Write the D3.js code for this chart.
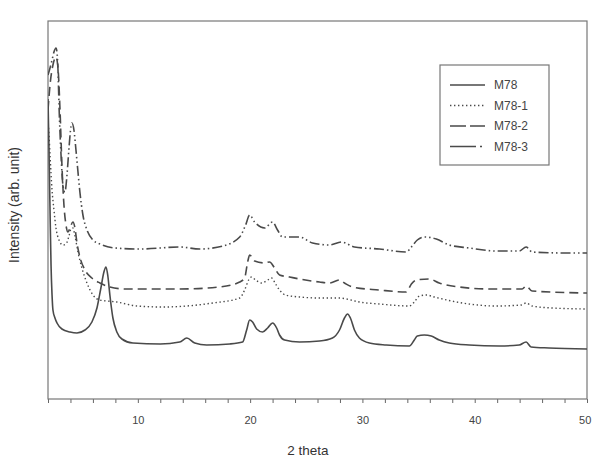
<!DOCTYPE html>
<html>
<head>
<meta charset="utf-8">
<script src="https://cdn.jsdelivr.net/npm/d3@7"></script>
<style>
  body { margin: 0; background: #fff; }
  svg { display: block; font-family: "Liberation Sans", Arial, sans-serif; }
</style>
</head>
<body>
<svg id="chart" width="592" height="461"></svg>
<script>
// 2 theta (deg), intensity (arb. unit)
var m78 = [[2.0,300],[2.09,249],[2.18,189],[2.27,134],[2.36,104],[2.44,89],[2.62,81],[2.8,76],[3.24,70],[3.96,67],[4.58,66],[5.29,69],[5.91,77],[6.36,91],[6.71,111],[6.98,127],[7.16,132],[7.33,123],[7.51,104],[7.78,81],[8.13,67],[8.58,60],[9.56,56],[12.0,55],[13.73,57],[14.36,61],[15.07,56],[16.13,54],[18.18,55],[19.33,57],[19.69,69],[19.96,79],[20.22,77],[20.58,70],[21.11,67],[21.56,71],[22.0,76],[22.36,71],[22.62,64],[23.07,59],[24.4,57],[26.18,58],[27.33,61],[27.96,69],[28.4,81],[28.67,85],[28.93,81],[29.29,69],[29.73,61],[30.62,56],[32.13,54],[34.18,53],[34.62,59],[34.89,63],[35.51,64],[36.13,63],[36.84,59],[37.73,56],[39.51,54],[42.18,53],[43.96,54],[44.58,57],[45.02,52],[46.62,51],[50,50]];
var m78_1 = [[2.0,279],[2.09,264],[2.18,244],[2.36,209],[2.53,189],[2.71,171],[2.98,159],[3.33,154],[3.6,155],[3.87,163],[4.04,170],[4.22,171],[4.4,163],[4.67,147],[5.02,131],[5.47,116],[6.0,104],[6.62,99],[8.13,97],[9.91,93],[12.22,92],[16.67,96],[19.07,101],[19.51,109],[19.87,119],[20.13,122],[20.49,119],[21.02,116],[21.56,119],[21.91,121],[22.27,115],[22.62,109],[23.16,104],[24.4,102],[26.18,101],[27.96,101],[28.58,100],[29.73,97],[31.51,95],[34.18,93],[34.62,97],[35.07,103],[35.69,104],[36.4,102],[38.89,96],[41.91,93],[44.13,94],[44.58,96],[45.11,93],[46.89,91],[50,90]];
var m78_2 = [[2.0,289],[2.18,314],[2.44,334],[2.71,342],[2.89,331],[3.07,289],[3.24,234],[3.42,194],[3.6,174],[3.78,167],[3.96,171],[4.22,177],[4.4,171],[4.58,156],[4.84,142],[5.29,129],[5.91,121],[6.62,116],[7.51,112],[8.84,110],[13.73,110],[17.29,112],[19.07,117],[19.51,121],[19.78,137],[19.96,144],[20.4,138],[21.29,136],[21.73,137],[22.18,131],[22.62,124],[23.51,122],[24.4,120],[26.18,117],[27.07,116],[27.96,119],[28.4,116],[29.11,112],[31.51,109],[33.91,107],[34.36,115],[34.8,119],[35.96,120],[36.84,116],[38.62,112],[41.29,110],[44.22,110],[44.58,113],[45.11,108],[50,106]];
var m78_3 = [[2.0,324],[2.18,331],[2.36,339],[2.53,347],[2.71,351],[2.8,347],[2.89,329],[2.98,294],[3.16,244],[3.33,214],[3.51,207],[3.69,224],[3.87,251],[4.04,272],[4.13,276],[4.31,269],[4.49,249],[4.67,227],[4.84,207],[5.11,184],[5.47,169],[6.0,159],[6.62,155],[7.96,151],[10.18,150],[13.73,152],[15.51,150],[17.56,153],[19.07,162],[19.6,174],[19.96,184],[20.4,177],[21.29,171],[22.0,177],[22.44,169],[22.89,162],[23.69,162],[24.4,162],[25.56,156],[27.07,154],[28.13,157],[29.29,152],[31.51,150],[33.91,147],[34.36,152],[34.89,159],[35.51,162],[36.58,160],[37.73,154],[39.51,151],[41.91,148],[43.96,148],[44.58,152],[45.11,147],[48.13,146],[50,146]];

var seriesNames = ["M78", "M78-1", "M78-2", "M78-3"];
var seriesData = [m78, m78_1, m78_2, m78_3];
var dashes = [null, "1.4,2.6", "9,5", "10,3,1.5,3,1.5,3"];
var xTickLabels = [10, 20, 30, 40, 50];

var margin = {top: 21, right: 5, bottom: 62, left: 48},
    width = 592 - margin.left - margin.right,
    height = 461 - margin.top - margin.bottom;

var svg = d3.select("#chart");
var g = svg.append("g").attr("transform", "translate(" + margin.left + "," + margin.top + ")");

var x = d3.scaleLinear().domain([2, 50]).range([0, width]);
var y = d3.scaleLinear().domain([0, height]).range([height, 0]);

g.append("clipPath").attr("id", "clip")
  .append("rect").attr("width", width).attr("height", height);

// minor ticks every 2, labels every 10
var xAxis = d3.axisBottom(x)
  .tickValues(d3.range(2, 50.1, 2))
  .tickSize(4)
  .tickFormat(function(d) { return xTickLabels.indexOf(d) >= 0 ? d : ""; });

var ax = g.append("g").attr("transform", "translate(0," + height + ")").call(xAxis);
ax.select(".domain").remove();
ax.selectAll("line").attr("stroke", "#666");
ax.selectAll("text").attr("fill", "#444").attr("font-size", "11px").attr("dy", "1.6em");
// last label sits on the page edge; keep it inside
ax.selectAll("text").filter(function(d) { return d == 50; })
  .attr("text-anchor", "end").attr("dx", "0.35em");

// frame
g.append("rect")
  .attr("width", width).attr("height", height)
  .attr("fill", "none").attr("stroke", "#777").attr("stroke-width", 1.2);

var line = d3.line()
  .x(function(d) { return x(d[0]); })
  .y(function(d) { return y(d[1]); })
  .curve(d3.curveMonotoneX);

var plot = g.append("g").attr("clip-path", "url(#clip)");
seriesData.forEach(function(s, i) {
  plot.append("path")
    .datum(s)
    .attr("d", line)
    .attr("fill", "none")
    .attr("stroke", "#4a4a4a")
    .attr("stroke-width", i == 1 ? 1.4 : 1.6)
    .attr("stroke-dasharray", dashes[i]);
});

// legend
var legend = svg.append("g").attr("transform", "translate(440,65)");
legend.append("rect")
  .attr("width", 109).attr("height", 100)
  .attr("fill", "#fff").attr("stroke", "#777").attr("stroke-width", 1.2);
seriesNames.forEach(function(n, i) {
  var ly = 20 + i * 20.5;
  legend.append("line")
    .attr("x1", 10).attr("x2", 45).attr("y1", ly).attr("y2", ly)
    .attr("stroke", "#4a4a4a").attr("stroke-width", 1.6)
    .attr("stroke-dasharray", i == 2 ? "16,4" : (i == 3 ? "26,4,2,3,2,3" : dashes[i]));
  legend.append("text")
    .attr("x", 54).attr("y", ly + 4)
    .attr("font-size", "12px").attr("fill", "#444")
    .text(n);
});

// axis titles
svg.append("text")
  .attr("x", 308).attr("y", 455)
  .attr("text-anchor", "middle")
  .attr("font-size", "13.5px").attr("fill", "#333")
  .text("2 theta");

svg.append("text")
  .attr("transform", "translate(19,205) rotate(-90)")
  .attr("text-anchor", "middle")
  .attr("font-size", "14px").attr("fill", "#333")
  .text("Intensity (arb. unit)");
</script>
</body>
</html>
